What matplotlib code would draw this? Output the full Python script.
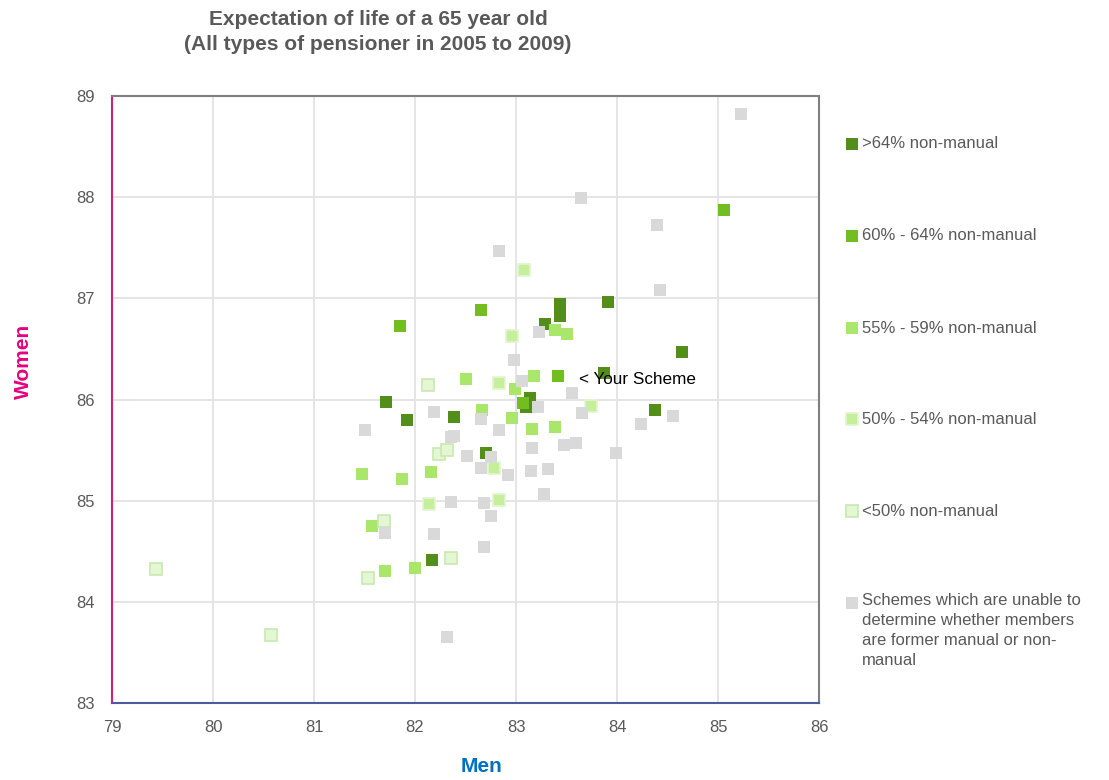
import matplotlib
matplotlib.use("Agg")
import matplotlib.pyplot as plt
from matplotlib.lines import Line2D

plt.rcParams['font.family'] = ['Liberation Sans', 'DejaVu Sans']

# Life expectancy at 65 (men, women) by share of non-manual members
men_gt64 = [83.87, 83.44, 83.44, 83.29, 83.91, 84.64, 84.38, 83.14, 83.10, 81.71, 81.92, 82.39, 82.70, 82.17]
women_gt64 = [86.26, 86.94, 86.83, 86.75, 86.96, 86.47, 85.90, 86.01, 85.93, 85.98, 85.80, 85.83, 85.47, 84.41]

men_60_64 = [81.85, 82.65, 85.06, 83.07, 83.42]
women_60_64 = [86.73, 86.88, 87.87, 85.97, 86.23]

men_55_59 = [82.50, 82.66, 82.99, 82.96, 83.16, 83.18, 83.39, 83.50, 83.39, 81.48, 81.87, 82.16, 81.57, 81.70, 82.00]
women_55_59 = [86.20, 85.90, 86.10, 85.82, 85.71, 86.23, 86.69, 86.65, 85.73, 85.26, 85.21, 85.28, 84.75, 84.30, 84.33]

men_50_54 = [82.96, 82.83, 82.14, 82.78, 82.83, 83.74, 83.08]
women_50_54 = [86.63, 86.16, 84.97, 85.32, 85.01, 85.94, 87.28]

men_lt50 = [82.13, 82.24, 82.32, 81.69, 82.36, 81.53, 79.44, 80.57]
women_lt50 = [86.14, 85.46, 85.50, 84.80, 84.43, 84.24, 84.32, 83.67]

men_unknown = [83.23, 82.98, 83.06, 82.19, 81.50, 82.65, 82.83, 82.36, 82.39, 82.51, 82.75, 82.65,
               82.92, 83.16, 83.15, 82.36, 82.68, 82.75, 81.70, 82.19, 82.68, 83.28, 83.48, 83.59,
               83.99, 83.32, 84.24, 84.55, 84.43, 83.55, 83.65, 83.22, 85.23, 83.64, 84.40, 82.83, 82.32]
women_unknown = [86.67, 86.39, 86.18, 85.88, 85.70, 85.81, 85.70, 85.63, 85.64, 85.44, 85.43, 85.32,
                 85.25, 85.52, 85.29, 84.99, 84.98, 84.85, 84.68, 84.67, 84.54, 85.07, 85.55, 85.57,
                 85.47, 85.31, 85.76, 85.84, 87.08, 86.06, 85.87, 85.93, 88.82, 87.99, 87.72, 87.47, 83.65]

series_labels = [">64% non-manual", "60% - 64% non-manual", "55% - 59% non-manual",
                 "50% - 54% non-manual", "<50% non-manual",
                 "Schemes which are unable to\ndetermine whether members\nare former manual or non-\nmanual"]

scheme_label = "< Your Scheme"
scheme_label_pos = (83.62, 86.20)

x_ticks = [79, 80, 81, 82, 83, 84, 85, 86]
y_ticks = [83, 84, 85, 86, 87, 88, 89]

series = [
    (men_gt64, women_gt64, "#548e1a", "#548e1a", 0.0),
    (men_60_64, women_60_64, "#72be20", "#72be20", 0.0),
    (men_55_59, women_55_59, "#aae66a", "#aae66a", 0.0),
    (men_50_54, women_50_54, "#c6ef9c", "#e2f6cf", 1.2),
    (men_lt50, women_lt50, "#e3f7d3", "#c9e9b2", 1.2),
    (men_unknown, women_unknown, "#d9d9d9", "#d9d9d9", 0.0),
]

W, H = 1109, 780
fig = plt.figure(figsize=(W / 100, H / 100), dpi=100)
ax = fig.add_axes([112 / W, 1 - 703 / H, (819 - 112) / W, (703 - 96) / H])

for xs, ys, face, edge, ew in series:
    ax.plot(xs, ys, linestyle="none", marker="s", markersize=9.2,
            markerfacecolor=face, markeredgecolor=edge, markeredgewidth=ew, zorder=3)

ax.text(scheme_label_pos[0], scheme_label_pos[1], scheme_label, fontsize=12.3,
        color="black", ha="left", va="center", zorder=4)

ax.set_xlim(x_ticks[0], x_ticks[-1])
ax.set_ylim(y_ticks[0], y_ticks[-1])
ax.set_xticks(x_ticks)
ax.set_yticks(y_ticks)
ax.tick_params(length=0, labelsize=12, labelcolor="#595959")
ax.tick_params(axis="x", pad=12.5)
ax.tick_params(axis="y", pad=12.5)
ax.grid(True, color="#e3e3e3", linewidth=1.3)
ax.set_axisbelow(True)

ax.spines["top"].set_color("#7f7f7f")
ax.spines["right"].set_color("#7f7f7f")
ax.spines["left"].set_color("#d3206f")
ax.spines["bottom"].set_color("#4b5c9c")
for s in ax.spines.values():
    s.set_linewidth(1.5)

fig.text(378 / W, 1 - 10 / H,
         "Expectation of life of a 65 year old\n(All types of pensioner in 2005 to 2009)",
         ha="center", va="top", fontsize=15, fontweight="bold", color="#595959", linespacing=1.38)
fig.text(23 / W, 1 - 361 / H, "Women", rotation=90, ha="center", va="center",
         fontsize=15, fontweight="bold", color="#e6007e")
fig.text(481 / W, 1 - 767 / H, "Men", ha="center", va="center",
         fontsize=15, fontweight="bold", color="#0070c0")

# Legend drawn entry by entry on the right side
row_y = [144, 236, 328, 419, 511, 603]
for (xs, ys, face, edge, ew), label, ry in zip(series, series_labels, row_y):
    yf = 1 - ry / H
    fig.add_artist(Line2D([852 / W], [yf], transform=fig.transFigure, linestyle="none",
                          marker="s", markersize=8.2, markerfacecolor=face,
                          markeredgecolor=edge, markeredgewidth=ew))
    if "\n" in label:
        fig.text(862 / W, yf + 10 / H, label, ha="left", va="top",
                 fontsize=12, color="#595959", linespacing=1.42)
    else:
        fig.text(862 / W, yf, label, ha="left", va="center",
                 fontsize=12, color="#595959")

fig.savefig("out.png", dpi=100)
